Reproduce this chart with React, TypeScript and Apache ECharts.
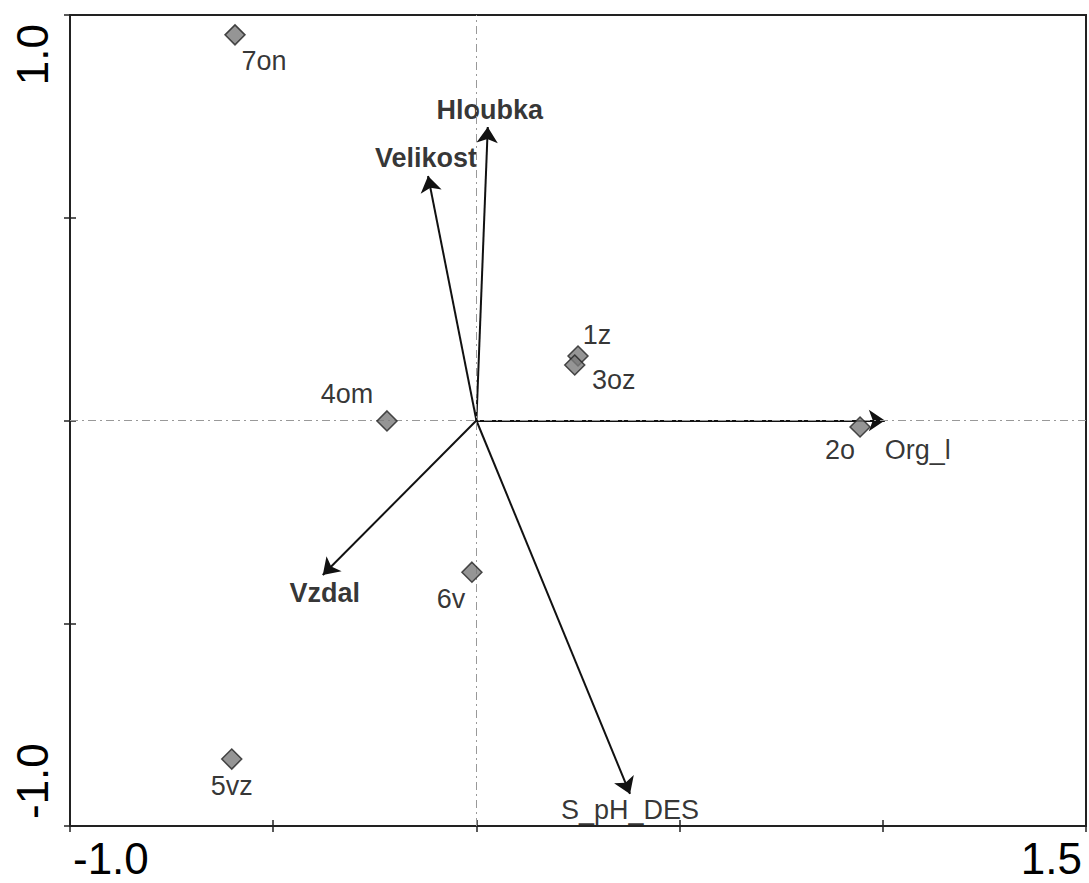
import React, { useEffect, useRef } from 'react';
import * as echarts from 'echarts';

// axis scale and tick labels
const xMin = -1.0;
const xMax = 1.5;
const yMin = -1.0;
const yMax = 1.0;
const tickStep = 0.5;
const xTickLabels: Record<string, string> = { '-1': '-1.0', '1.5': '1.5' };
const yTickLabels: Record<string, string> = { '-1': '-1.0', '1': '1.0' };

// samples (diamonds)
const siteNames = ['7on', '1z', '3oz', '4om', '2o', '6v', '5vz'];
const siteX = [-0.594, 0.25, 0.242, -0.22, 0.944, -0.011, -0.602];
const siteY = [0.951, 0.159, 0.137, -0.001, -0.016, -0.374, -0.835];

// environmental variables (arrows)
const varNames = ['Hloubka', 'Velikost', 'Org_l', 'Vzdal', 'S_pH_DES'];
const varX = [0.028, -0.119, 1.005, -0.378, 0.378];
const varY = [0.724, 0.603, 0.0, -0.381, -0.921];

// label styling (offsets in px from the mark)
const siteLabelOffset: Record<string, number[]> = {
  '7on': [29, 26],
  '1z': [19, -21],
  '3oz': [39, 15],
  '4om': [-40, -27],
  '2o': [-20, 23],
  '6v': [-21, 27],
  '5vz': [0, 27],
};
const varLabelOffset: Record<string, number[]> = {
  Hloubka: [2, -17],
  Velikost: [-2, -18],
  Org_l: [33, 29],
  Vzdal: [2, 18],
  S_pH_DES: [0, 16],
};
const varBold: Record<string, boolean> = { Hloubka: true, Velikost: true, Vzdal: true };

const FONT = '"Liberation Sans", Arial, Helvetica, sans-serif';

export default function App() {
  const ref = useRef<HTMLDivElement>(null);
  useEffect(() => {
    if (!ref.current) return;
    const chart = echarts.init(ref.current, undefined, { renderer: 'svg' });
    const baseAxis = {
      type: 'value' as const,
      splitLine: { show: false },
    };
    const tickStyle = { color: '#222', width: 1.5 };
    chart.setOption({
      animation: false,
      backgroundColor: '#fff',
      grid: {
        left: 70,
        right: 3,
        top: 15,
        bottom: 57,
        show: true,
        borderColor: '#222',
        borderWidth: 2,
        backgroundColor: 'transparent',
      },
      xAxis: [
        {
          ...baseAxis,
          min: xMin,
          max: xMax,
          interval: tickStep,
          position: 'bottom',
          axisLine: { show: true, onZero: false, lineStyle: { color: '#222', width: 2 } },
          axisTick: { show: true, length: 6, lineStyle: tickStyle },
          axisLabel: {
            formatter: (v: number) => xTickLabels[String(v)] ?? '',
            fontSize: 44,
            color: '#000',
            fontFamily: FONT,
            margin: 10,
            padding: [0, 4, 0, 3],
            showMinLabel: true,
            showMaxLabel: true,
            hideOverlap: false,
            alignMinLabel: 'left',
            alignMaxLabel: 'right',
          },
        },
        {
          ...baseAxis,
          min: xMin,
          max: xMax,
          interval: tickStep,
          position: 'bottom',
          axisLine: { show: false, onZero: false },
          axisTick: { show: true, inside: true, length: 6, lineStyle: tickStyle },
          axisLabel: { show: false },
        },
      ],
      yAxis: [
        {
          ...baseAxis,
          min: yMin,
          max: yMax,
          interval: tickStep,
          position: 'left',
          axisLine: { show: true, onZero: false, lineStyle: { color: '#222', width: 2 } },
          axisTick: { show: true, length: 6, lineStyle: tickStyle },
          axisLabel: {
            formatter: (v: number) => yTickLabels[String(v)] ?? '',
            fontSize: 44,
            color: '#000',
            fontFamily: FONT,
            rotate: 90,
            margin: 16,
            padding: [0, 9, 0, 7],
            showMinLabel: true,
            showMaxLabel: true,
            hideOverlap: false,
            alignMinLabel: 'left',
            alignMaxLabel: 'right',
          },
        },
        {
          ...baseAxis,
          min: yMin,
          max: yMax,
          interval: tickStep,
          position: 'left',
          axisLine: { show: false, onZero: false },
          axisTick: { show: true, inside: true, length: 6, lineStyle: tickStyle },
          axisLabel: { show: false },
        },
      ],
      series: [
        {
          type: 'scatter',
          data: [],
          silent: true,
          markLine: {
            silent: true,
            symbol: 'none',
            label: { show: false },
            lineStyle: { type: [8, 4, 2, 4], color: '#999', width: 1 },
            data: [{ xAxis: 0 }, { yAxis: 0 }],
          },
        },
        {
          type: 'lines',
          coordinateSystem: 'cartesian2d',
          z: 3,
          symbol: ['none', 'arrow'],
          symbolSize: 16,
          lineStyle: { color: '#111', width: 2, opacity: 1 },
          itemStyle: { color: '#111' },
          data: varNames.map((n, i) => ({
            name: n,
            coords: [
              [0, 0],
              [varX[i], varY[i]],
            ],
          })),
        },
        {
          type: 'scatter',
          z: 4,
          symbolSize: 0,
          data: varNames.map((n, i) => ({
            name: n,
            value: [varX[i], varY[i]],
            label: {
              offset: varLabelOffset[n],
              fontWeight: varBold[n] ? 'bold' : 'normal',
            },
          })),
          label: {
            show: true,
            position: 'inside',
            formatter: '{b}',
            fontSize: 27,
            color: '#000',
            fontFamily: FONT,
          },
        },
        {
          type: 'scatter',
          z: 5,
          symbol: 'diamond',
          symbolSize: 20,
          itemStyle: { color: '#7a7a7a', borderColor: '#222', borderWidth: 1.5 },
          data: siteNames.map((n, i) => ({
            name: n,
            value: [siteX[i], siteY[i]],
            label: { offset: siteLabelOffset[n] },
          })),
          label: {
            show: true,
            position: 'inside',
            formatter: '{b}',
            fontSize: 27,
            color: '#000',
            fontFamily: FONT,
          },
        },
      ],
    });
    return () => chart.dispose();
  }, []);
  return (
    <div
      ref={ref}
      style={{ position: 'absolute', left: 0, top: 0, width: 1089, height: 883, background: '#fff' }}
    />
  );
}
